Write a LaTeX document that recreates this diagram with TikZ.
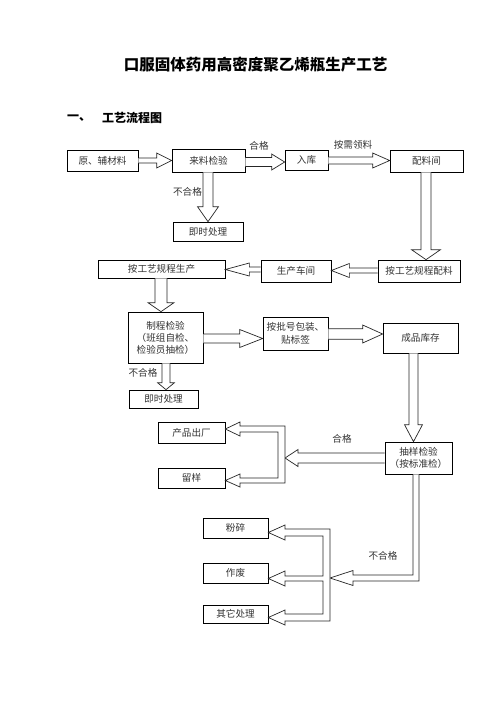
\documentclass[tikz,border=0pt]{standalone}
\usepackage{fontspec}
\newfontfamily\cjk{Noto Sans CJK SC}
\usetikzlibrary{calc}
\tikzset{
  box/.style={draw=black, line width=0.7pt, inner sep=0pt, align=center,
    text=black!80, font=\cjk\fontsize{9.6}{12}\selectfont},
  lbl/.style={inner sep=0pt, text=black!80, font=\cjk\fontsize{9.6}{12}\selectfont},
  arr/.style={draw=black!85, line width=0.7pt, line join=miter, fill=white},
}
% block arrow: #1 start, #2 tip, #3 shaft half width, #4 head half width, #5 head length
\newcommand\barrow[5]{%
  \coordinate (ba-p) at #1;
  \coordinate (ba-q) at #2;
  \coordinate (ba-h) at ($(ba-q)!#5!(ba-p)$);
  \draw[arr] ($(ba-p)!#3!90:(ba-q)$) -- ($(ba-h)!#3!90:(ba-q)$) -- ($(ba-h)!#4!90:(ba-q)$)
    -- (ba-q) -- ($(ba-h)!#4!-90:(ba-q)$) -- ($(ba-h)!#3!-90:(ba-q)$) -- ($(ba-p)!#3!-90:(ba-q)$);
}
\begin{document}
\begin{tikzpicture}[x=1pt,y=-1pt]
\useasboundingbox[fill=white] (0,0) rectangle (496,702);

% title and heading
\node[inner sep=0pt, font=\cjk\bfseries\fontsize{15.5}{18}\selectfont] (title) at (255.5,65) {口服固体药用高密度聚乙烯瓶生产工艺};
\node[inner sep=0pt, anchor=west, font=\cjk\bfseries\fontsize{12}{14}\selectfont] (h1) at (67,118) {一、};
\node[inner sep=0pt, anchor=west, font=\cjk\bfseries\fontsize{12}{14}\selectfont] (h2) at (102,118) {工艺流程图};

% boxes
\node[box, minimum width=71pt, minimum height=21pt] (raw) at (102.5,160.5) {原、辅材料};
\node[box, minimum width=73pt, minimum height=23pt] (lljy) at (208.5,160.5) {来料检验};
\node[box, minimum width=70pt, minimum height=19pt] (jscl1) at (208,231.5) {即时处理};
\node[box, minimum width=43pt, minimum height=20pt] (ruku) at (306.5,160) {入库};
\node[box, minimum width=73pt, minimum height=22pt] (pljian) at (426.5,161) {配料间};
\node[box, minimum width=82pt, minimum height=22pt] (gylcpl) at (419,271) {按工艺规程配料};
\node[box, minimum width=70pt, minimum height=22pt] (scjc) at (296,271) {生产车间};
\node[box, minimum width=127pt, minimum height=18pt] (gylcsc) at (161.5,269) {按工艺规程生产};
\node[box, minimum width=75pt, minimum height=51pt] (zcjy) at (165.5,337.5) {制程检验\\（班组自检、\\检验员抽检）};
\node[box, minimum width=69pt, minimum height=18pt] (jscl2) at (163.5,399) {即时处理};
\node[box, minimum width=65pt, minimum height=33pt, font=\cjk\fontsize{9.6}{13.5}\selectfont] (abhbz) at (295.5,333.5) {按批号包装、\\贴标签};
\node[box, minimum width=75pt, minimum height=30pt] (cpkc) at (420.5,338) {成品库存};
\node[box, minimum width=67pt, minimum height=32pt] (cyjy) at (418.5,458) {抽样检验\\（按标准检）};
\node[box, minimum width=67pt, minimum height=21pt] (cpcc) at (191.5,432.5) {产品出厂};
\node[box, minimum width=67pt, minimum height=20pt] (ly) at (191.5,478) {留样};
\node[box, minimum width=65pt, minimum height=20pt] (fs) at (235.5,528) {粉碎};
\node[box, minimum width=65pt, minimum height=20pt] (zf) at (235.5,573) {作废};
\node[box, minimum width=65pt, minimum height=18pt] (qtcl) at (235.5,614) {其它处理};

% labels
\node[lbl] (l1) at (259,146) {合格};
\node[lbl] (l2) at (353,145) {按需领料};
\node[lbl] (l3) at (187.5,192) {不合格};
\node[lbl] (l4) at (143,373) {不合格};
\node[lbl] (l5) at (342,439) {合格};
\node[lbl] (l6) at (383,556) {不合格};

% block arrows
\barrow{(raw.east)}{(lljy.west |- raw.east)}{2.5pt}{7.5pt}{15pt}
\barrow{(lljy.east |- 0,162)}{(ruku.west |- 0,162)}{4.5pt}{8pt}{13pt}
\barrow{(ruku.east |- 0,160.5)}{(pljian.west |- 0,160.5)}{3.5pt}{7.5pt}{17pt}
\barrow{(lljy.south -| 208,0)}{(jscl1.north -| 208,0)}{5pt}{10.5pt}{15pt}
\barrow{(pljian.south -| 426,0)}{(gylcpl.north -| 426,0)}{5pt}{14.5pt}{10pt}
\barrow{(gylcpl.west |- 0,270.5)}{(scjc.east |- 0,270.5)}{2.5pt}{7pt}{18pt}
\barrow{(scjc.west |- 0,269.5)}{(gylcsc.east |- 0,269.5)}{2.5pt}{6.5pt}{24pt}
\barrow{(gylcsc.south -| 161,0)}{(zcjy.north -| 161,0)}{6pt}{13pt}{9pt}
\barrow{(zcjy.east |- 0,338.5)}{(abhbz.west |- 0,338.5)}{4.5pt}{9pt}{23pt}
\barrow{(abhbz.east |- 0,334)}{(cpkc.west |- 0,334)}{5.3pt}{9pt}{20pt}
\barrow{(zcjy.south -| 166,0)}{(jscl2.north -| 166,0)}{4pt}{8.5pt}{7pt}
\barrow{(cpkc.south -| 413.5,0)}{(cyjy.north -| 413.5,0)}{4.5pt}{9pt}{17pt}
\coordinate (br1) at (285,458);
\barrow{(cyjy.west |- br1)}{(br1)}{5pt}{8.5pt}{13pt}

% bracket to 产品出厂 / 留样
\draw[arr] (cpcc.east |- 0,429) -- (240,422) -- (240,426) -- (285,426) -- (285,483)
  -- (240,483) -- (240,487) -- (ly.east |- 0,480.5) -- (240,474) -- (240,478)
  -- (278,478) -- (278,432) -- (240,432) -- (240,436) -- cycle;

% elbow from 抽样检验 to second bracket
\coordinate (br2) at (330,578);
\draw[arr] (cyjy.south -| 413,0) -- (413,575) -- (353,575) -- (353,570.5) -- (br2)
  -- (353,585.5) -- (353,581) -- (419,581) -- (cyjy.south -| 419,0);

% bracket to 粉碎 / 作废 / 其它处理
\draw[arr] (fs.east |- 0,532.5) -- (285,525) -- (285,529) -- (330,529) -- (330,621)
  -- (285,621) -- (285,625) -- (qtcl.east |- 0,617.5) -- (285,610) -- (285,614)
  -- (323,614) -- (323,581) -- (285,581) -- (285,586) -- (zf.east |- 0,578.5)
  -- (285,571) -- (285,576) -- (323,576) -- (323,536) -- (285,536) -- (285,540) -- cycle;
\end{tikzpicture}
\end{document}
